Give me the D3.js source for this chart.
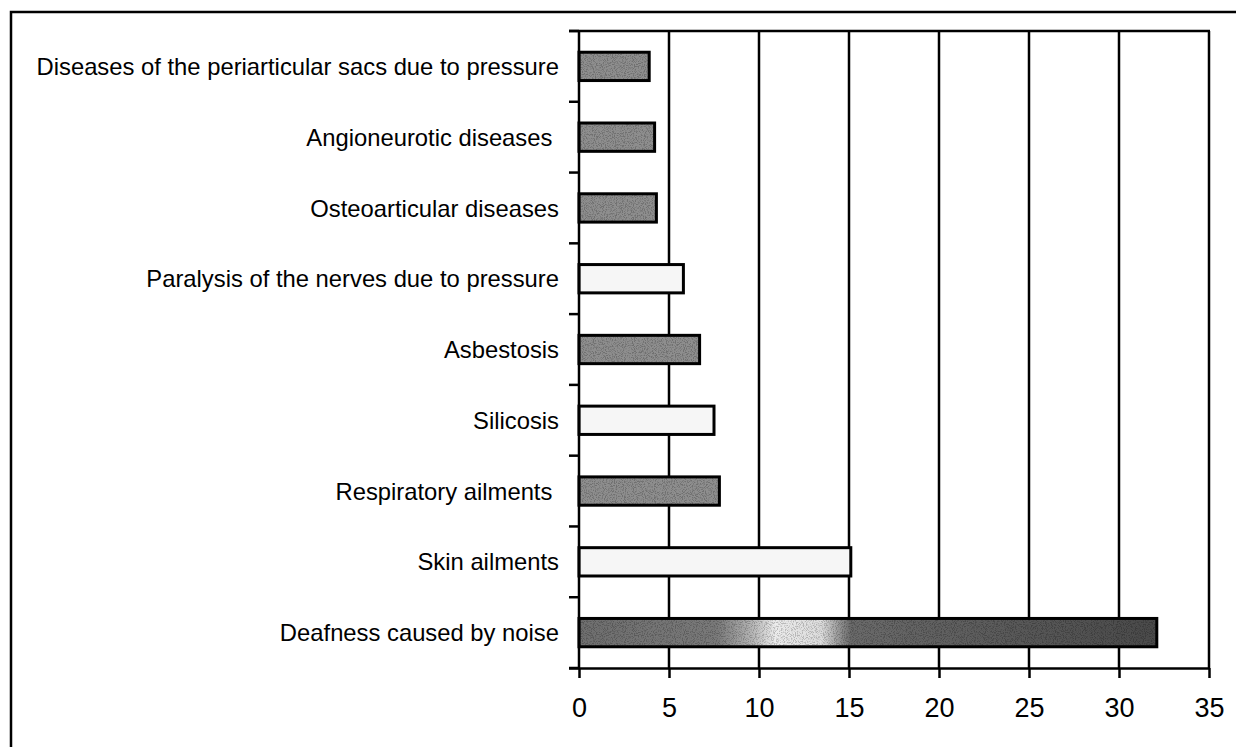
<!DOCTYPE html>
<html><head><meta charset="utf-8">
<script src="https://cdn.jsdelivr.net/npm/d3@7/dist/d3.min.js"></script>
<style>
html,body{margin:0;padding:0;background:#fff;}
svg{display:block;font-family:"Liberation Sans",Arial,sans-serif;}
</style></head>
<body>
<svg id="chart" width="1236" height="747"></svg>
<script>
const categories = [
  "Diseases of the periarticular sacs due to pressure",
  "Angioneurotic diseases ",
  "Osteoarticular diseases",
  "Paralysis of the nerves due to pressure",
  "Asbestosis",
  "Silicosis",
  "Respiratory ailments ",
  "Skin ailments",
  "Deafness caused by noise"
];
const values = [3.9, 4.2, 4.3, 5.8, 6.7, 7.5, 7.8, 15.1, 32.1];
const shades = ["dark","dark","dark","light","dark","light","dark","light","mixed"];
const xTicks = [0, 5, 10, 15, 20, 25, 30, 35];

const svg = d3.select("#chart");
const defs = svg.append("defs");

const grad = defs.append("linearGradient").attr("id","mixed").attr("x1","0").attr("x2","1").attr("y1","0").attr("y2","0");
[["0%","#6e6e6e"],["24%","#7a7a7a"],["30%","#b5b5b5"],["34%","#ececec"],["42%","#dcdcdc"],["47%","#6a6a6a"],["100%","#4a4a4a"]]
  .forEach(([o,c])=>grad.append("stop").attr("offset",o).attr("stop-color",c));

// speckle texture filter (deterministic turbulence)
const f = defs.append("filter").attr("id","speckle").attr("x",0).attr("y",0).attr("width",1).attr("height",1);
f.append("feTurbulence").attr("type","fractalNoise").attr("baseFrequency",0.9).attr("numOctaves",2).attr("seed",4).attr("result","n");
f.append("feColorMatrix").attr("in","n").attr("type","matrix")
  .attr("values","0 0 0 0 0  0 0 0 0 0  0 0 0 0 0  -5 0 0 0 2.7").attr("result","spots");
f.append("feComposite").attr("in","spots").attr("in2","SourceAlpha").attr("operator","in").attr("result","s2");
f.append("feComponentTransfer").attr("in","s2").attr("result","s3")
  .append("feFuncA").attr("type","linear").attr("slope",0.4);
const m = f.append("feMerge");
m.append("feMergeNode").attr("in","SourceGraphic");
m.append("feMergeNode").attr("in","s3");

const fills = {dark:"#8e8e8e", light:"#f6f6f6", mixed:"url(#mixed)"};

// outer frame
svg.append("path").attr("d","M11,760 L11,12 L1250,12").attr("fill","none").attr("stroke","#000").attr("stroke-width",2.5);

const x = d3.scaleLinear().domain([0,35]).range([579,1209]);
const y = d3.scaleBand().domain(categories).range([31,668]).paddingInner(0.6).paddingOuter(0.3);

// gridlines
svg.append("g").selectAll("line").data(xTicks.slice(1)).join("line")
  .attr("x1",d=>x(d)).attr("x2",d=>x(d)).attr("y1",31).attr("y2",668)
  .attr("stroke","#000").attr("stroke-width",2.5);
// top border
svg.append("line").attr("x1",569).attr("x2",1210).attr("y1",31).attr("y2",31).attr("stroke","#000").attr("stroke-width",2.5);

// bars: textured fill, then outline
const bars = svg.append("g");
bars.selectAll("rect.fill").data(categories).join("rect").attr("class","fill")
  .attr("x",x(0)).attr("y",d=>y(d))
  .attr("width",(d,i)=>x(values[i])-x(0)).attr("height",y.bandwidth())
  .attr("fill",(d,i)=>fills[shades[i]])
  .attr("filter",(d,i)=>shades[i]==="light"?null:"url(#speckle)");
bars.selectAll("rect.edge").data(categories).join("rect").attr("class","edge")
  .attr("x",x(0)).attr("y",d=>y(d))
  .attr("width",(d,i)=>x(values[i])-x(0)).attr("height",y.bandwidth())
  .attr("fill","none").attr("stroke","#000").attr("stroke-width",3);

// x axis
const xAxis = d3.axisBottom(x).tickValues(xTicks).tickSize(10).tickSizeOuter(0).tickPadding(20);
const gx = svg.append("g").attr("transform","translate(0,668)").call(xAxis);
gx.select(".domain").attr("stroke-width",2.5).attr("d","M569,0.5H1209");
gx.selectAll(".tick line").attr("stroke-width",2.5);
gx.selectAll(".tick text").attr("font-size",27).attr("fill","#000").attr("font-family","'Liberation Sans',Arial,sans-serif");

// y axis: ticks at band boundaries
const bounds = d3.range(categories.length+1).map(i=>31 + i*y.step());
svg.append("line").attr("x1",579).attr("x2",579).attr("y1",31).attr("y2",668).attr("stroke","#000").attr("stroke-width",2.5);
svg.append("g").selectAll("line").data(bounds).join("line")
  .attr("x1",569).attr("x2",579).attr("y1",d=>d).attr("y2",d=>d).attr("stroke","#000").attr("stroke-width",2.5);

// category labels
svg.append("g").selectAll("text").data(categories).join("text")
  .attr("x",559).attr("y",d=>y(d)+y.bandwidth()/2).attr("dy","0.36em")
  .attr("text-anchor","end").attr("font-size",23.8).attr("fill","#000")
  .style("white-space","pre")
  .text(d=>d);
</script>
</body></html>
